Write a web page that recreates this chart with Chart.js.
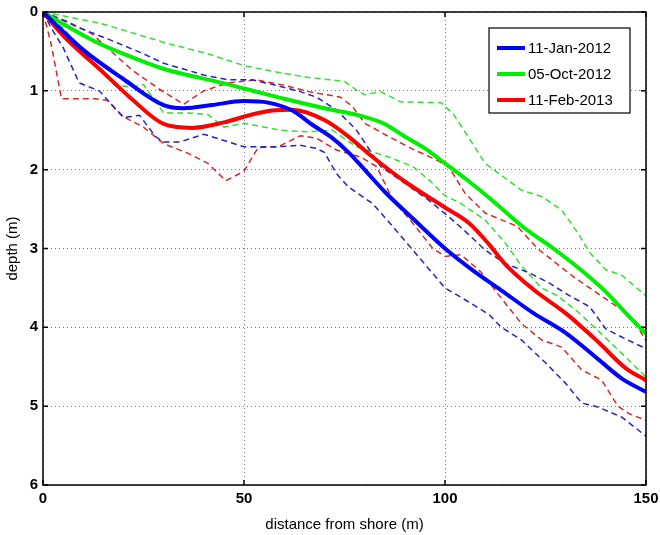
<!DOCTYPE html>
<html>
<head>
<meta charset="utf-8">
<script src="https://cdn.jsdelivr.net/npm/chart.js@4.4.1/dist/chart.umd.min.js"></script>
<style>
    html, body { margin: 0; padding: 0; background: #fff; }
    #wrap { width: 660px; height: 535px; }
</style>
</head>
<body>
<div id="wrap"><canvas id="depthChart" width="660" height="535"></canvas></div>
<script>
// survey labels
const surveyLabels = ['11-Jan-2012', '05-Oct-2012', '11-Feb-2013'];

const xTicks = [0, 50, 100, 150];
const yTicks = [0, 1, 2, 3, 4, 5, 6];

// 11-Jan-2012
const janMeanX = [0, 3, 10, 20, 30, 35, 42, 50, 56, 62, 67, 72, 76, 80, 85, 92, 100, 107, 114, 122, 130, 138, 144, 150];
const janMeanY = [0, 0.15, 0.48, 0.85, 1.18, 1.22, 1.18, 1.13, 1.15, 1.25, 1.43, 1.6, 1.78, 2.0, 2.28, 2.62, 3.0, 3.28, 3.53, 3.82, 4.07, 4.4, 4.65, 4.82];
const janUpX = [0, 4, 8.5, 17, 25, 30, 36, 40, 46, 52, 58, 64, 68, 73, 78, 84, 90, 96, 101, 105, 110, 115, 121, 126, 130, 136, 140, 145, 150];
const janUpY = [0, 0.08, 0.19, 0.36, 0.53, 0.65, 0.74, 0.8, 0.86, 0.86, 0.93, 1.01, 1.08, 1.24, 1.5, 1.96, 2.17, 2.39, 2.6, 2.78, 3.02, 3.19, 3.31, 3.44, 3.57, 3.74, 4.02, 4.15, 4.27];
const janLowX = [0, 2, 5, 9, 14, 20, 24, 28, 30, 34, 40, 50, 58, 64, 68, 70, 73, 76, 82, 87, 92, 100, 105, 111, 114, 119, 125, 130, 134, 138, 144, 150];
const janLowY = [0, 0.2, 0.45, 0.9, 1.0, 1.34, 1.31, 1.58, 1.65, 1.65, 1.55, 1.71, 1.71, 1.69, 1.73, 1.78, 2.05, 2.22, 2.43, 2.72, 3.02, 3.5, 3.65, 3.84, 4.0, 4.16, 4.45, 4.71, 4.96, 5.01, 5.14, 5.38];

// 05-Oct-2012
const octMeanX = [0, 5, 14, 22, 30, 36, 43, 50, 60, 70, 80, 85, 90, 95, 100, 106, 112, 120, 127, 134, 140, 145, 150];
const octMeanY = [0, 0.15, 0.4, 0.57, 0.72, 0.8, 0.88, 0.97, 1.1, 1.22, 1.33, 1.42, 1.58, 1.73, 1.92, 2.15, 2.4, 2.75, 3.0, 3.28, 3.55, 3.82, 4.08];
const octUpX = [0, 7, 14, 22, 31, 41, 50, 58, 66, 75, 78, 80, 84, 89, 99, 102, 106, 110, 119, 124, 129, 133, 136, 140, 144, 150];
const octUpY = [0, 0.07, 0.14, 0.26, 0.4, 0.53, 0.68, 0.76, 0.83, 0.88, 0.99, 1.05, 1.01, 1.14, 1.15, 1.29, 1.6, 1.92, 2.26, 2.34, 2.51, 2.8, 3.05, 3.27, 3.34, 3.6];
const octLowX = [0, 5, 13, 18, 22, 25, 30, 36, 41, 45, 50, 59, 66, 72, 78, 86, 92, 96, 100, 104, 110, 115, 119, 124, 128, 133, 138, 144, 150];
const octLowY = [0, 0.2, 0.67, 0.93, 0.95, 0.92, 1.28, 1.28, 1.3, 1.46, 1.41, 1.5, 1.52, 1.5, 1.71, 1.84, 1.96, 2.13, 2.33, 2.43, 2.64, 2.93, 3.22, 3.5, 3.6, 3.8, 4.04, 4.33, 4.63];

// 11-Feb-2013
const febMeanX = [0, 5, 14, 22, 30, 37, 45, 52, 57, 62, 70, 76, 82, 90, 100, 106, 111, 115, 122, 130, 138, 145, 150];
const febMeanY = [0, 0.3, 0.72, 1.1, 1.42, 1.47, 1.4, 1.3, 1.25, 1.24, 1.37, 1.58, 1.84, 2.15, 2.48, 2.68, 2.95, 3.2, 3.52, 3.82, 4.18, 4.52, 4.67];
const febUpX = [0, 6, 12, 17, 22, 29, 35, 40, 46, 53, 60, 66, 74, 77, 80, 86, 92, 98, 101, 105, 110, 118, 123, 132, 140, 144, 148, 150];
const febUpY = [0, 0.12, 0.27, 0.5, 0.73, 0.98, 1.17, 1.0, 0.9, 0.86, 0.93, 1.01, 1.08, 1.2, 1.41, 1.58, 1.74, 1.88, 1.97, 2.3, 2.55, 2.72, 3.0, 3.36, 3.64, 3.78, 4.0, 4.17];
const febLowX = [0, 2, 4.6, 13, 16, 20, 25, 30, 36, 41, 45.5, 50, 53.5, 58.5, 64, 68, 73, 79, 83, 87, 92, 97, 100, 104, 109, 114, 119, 124, 129, 134, 139, 143, 146, 150];
const febLowY = [0, 0.4, 1.1, 1.1, 1.12, 1.33, 1.46, 1.67, 1.79, 1.92, 2.14, 2.02, 1.72, 1.71, 1.57, 1.6, 1.75, 1.84, 1.96, 2.38, 2.68, 3.0, 3.1, 3.08, 3.3, 3.63, 3.95, 4.16, 4.25, 4.54, 4.67, 5.0, 5.1, 5.18];

const meanColors = ['#0000ff', '#00ee00', '#ff0000'];
const bandColors = ['#2424c0', '#33e033', '#d42a2a'];

function toPoints(xs, ys) {
    return xs.map(function(x, i) { return { x: x, y: ys[i] }; });
}

function meanSet(label, xs, ys, color) {
    return {
        label: label,
        data: toPoints(xs, ys),
        borderColor: color,
        backgroundColor: color,
        borderWidth: 4,
        pointRadius: 0,
        tension: 0.25,
        cubicInterpolationMode: 'monotone',
        order: 0
    };
}

function bandSet(label, xs, ys, color) {
    return {
        label: label,
        data: toPoints(xs, ys),
        borderColor: color,
        borderWidth: 1.5,
        borderDash: [6, 4],
        pointRadius: 0,
        tension: 0,
        order: 1
    };
}

const datasets = [
    meanSet(surveyLabels[0], janMeanX, janMeanY, meanColors[0]),
    meanSet(surveyLabels[1], octMeanX, octMeanY, meanColors[1]),
    meanSet(surveyLabels[2], febMeanX, febMeanY, meanColors[2]),
    bandSet('jan upper', janUpX, janUpY, bandColors[0]),
    bandSet('jan lower', janLowX, janLowY, bandColors[0]),
    bandSet('oct upper', octUpX, octUpY, bandColors[1]),
    bandSet('oct lower', octLowX, octLowY, bandColors[1]),
    bandSet('feb upper', febUpX, febUpY, bandColors[2]),
    bandSet('feb lower', febLowX, febLowY, bandColors[2])
];

const FONT = "'Liberation Sans', Arial, sans-serif";

// frame, inward ticks and the boxed legend, matlab style
const matlabFrame = {
    id: 'matlabFrame',
    afterDatasetsDraw: function(chart) {
        const c = chart.ctx;
        const a = chart.chartArea;
        const xs = chart.scales.x;
        const ys = chart.scales.y;
        c.save();
        c.strokeStyle = '#000';
        c.lineWidth = 1.5;
        c.setLineDash([]);
        c.strokeRect(a.left, a.top, a.right - a.left, a.bottom - a.top);

        xTicks.forEach(function(v) {
            const px = xs.getPixelForValue(v);
            c.beginPath();
            c.moveTo(px, a.bottom); c.lineTo(px, a.bottom - 5);
            c.moveTo(px, a.top); c.lineTo(px, a.top + 5);
            c.stroke();
        });
        yTicks.forEach(function(v) {
            const py = ys.getPixelForValue(v);
            c.beginPath();
            c.moveTo(a.left, py); c.lineTo(a.left + 5, py);
            c.moveTo(a.right, py); c.lineTo(a.right - 5, py);
            c.stroke();
        });

        // legend box
        const bw = 141, bh = 85;
        const bx = a.right - 16 - bw;
        const by = a.top + 16;
        c.fillStyle = '#fff';
        c.fillRect(bx, by, bw, bh);
        c.strokeStyle = '#000';
        c.lineWidth = 1.2;
        c.strokeRect(bx, by, bw, bh);
        c.font = '15px ' + FONT;
        c.textBaseline = 'middle';
        c.textAlign = 'left';
        for (let i = 0; i < 3; i++) {
            const ly = by + 20 + i * 26;
            c.strokeStyle = meanColors[i];
            c.lineWidth = 4;
            c.beginPath();
            c.moveTo(bx + 8, ly); c.lineTo(bx + 36, ly);
            c.stroke();
            c.fillStyle = '#000';
            c.fillText(surveyLabels[i], bx + 39, ly + 1);
        }
        c.restore();
    }
};

const ctx = document.getElementById('depthChart').getContext('2d');
const chart = new Chart(ctx, {
    type: 'line',
    data: { datasets: datasets },
    options: {
        responsive: false,
        animation: false,
        layout: { padding: { left: 0, right: 14, top: 12, bottom: 0 } },
        plugins: {
            legend: { display: false },
            tooltip: { enabled: false }
        },
        scales: {
            x: {
                type: 'linear',
                min: 0,
                max: 150,
                afterBuildTicks: function(scale) {
                    scale.ticks = xTicks.map(function(v) { return { value: v }; });
                },
                afterFit: function(scale) {
                    scale.height = 50;
                    scale.paddingRight = 0;
                    scale.paddingLeft = 0;
                },
                border: { display: false, dash: [1, 3] },
                grid: { color: '#777', lineWidth: 1, drawTicks: false },
                ticks: {
                    padding: 5,
                    color: '#000',
                    font: { family: FONT, size: 15, weight: 'bold' },
                    maxRotation: 0
                },
                title: {
                    display: true,
                    text: 'distance from shore (m)',
                    color: '#000',
                    font: { family: FONT, size: 15 },
                    padding: { top: 0, bottom: 1 }
                }
            },
            y: {
                type: 'linear',
                min: 0,
                max: 6,
                reverse: true,
                afterBuildTicks: function(scale) {
                    scale.ticks = yTicks.map(function(v) { return { value: v }; });
                },
                afterFit: function(scale) {
                    scale.width = 43;
                    scale.paddingTop = 0;
                    scale.paddingBottom = 0;
                },
                border: { display: false, dash: [1, 3] },
                grid: { color: '#777', lineWidth: 1, drawTicks: false },
                ticks: {
                    padding: 5,
                    color: '#000',
                    font: { family: FONT, size: 15, weight: 'bold' }
                },
                title: {
                    display: true,
                    text: 'depth (m)',
                    color: '#000',
                    font: { family: FONT, size: 15 },
                    padding: { top: 4, bottom: 0 }
                }
            }
        }
    },
    plugins: [matlabFrame]
});
</script>
</body>
</html>
